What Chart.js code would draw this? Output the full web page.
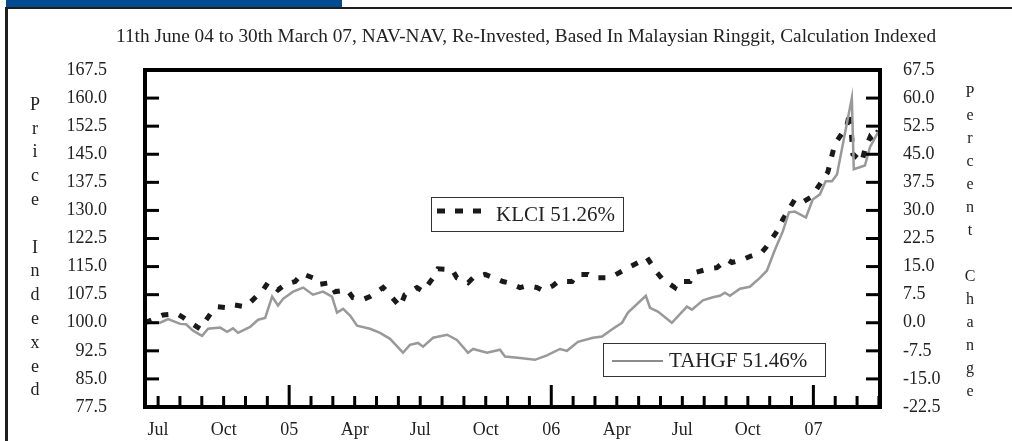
<!DOCTYPE html>
<html><head><meta charset="utf-8">
<script src="https://cdn.jsdelivr.net/npm/chart.js@4.4.0/dist/chart.umd.min.js"></script>
<style>html,body{margin:0;background:#fff}canvas{display:block}</style>
</head><body>
<canvas id="chart" width="1012" height="441"></canvas>
<script>
const title='11th June 04 to 30th March 07, NAV-NAV, Re-Invested, Based In Malaysian Ringgit, Calculation Indexed';
const leftTitle='Price Indexed', rightTitle='Percent Change';
const legendKlci='KLCI 51.26%', legendTahgf='TAHGF 51.46%';
// x = months after 1 Jul 2004
const monthLabels=['Jul','Oct','05','Apr','Jul','Oct','06','Apr','Jul','Oct','07'];
const tahgfX=[-0.6,0.09,0.46,1.01,1.28,1.60,2.01,2.29,2.84,3.16,3.43,3.66,4.21,4.58,4.90,5.22,5.49,5.72,6.18,6.64,7.09,7.55,7.96,8.19,8.47,8.79,9.11,9.70,10.16,10.62,11.21,11.53,11.90,12.13,12.59,13.23,13.68,14.19,14.42,15.06,15.65,15.88,16.57,17.25,17.80,18.40,18.72,19.22,19.91,20.32,20.82,21.24,21.51,22.33,22.52,22.88,23.52,24.21,24.44,24.94,25.40,25.72,25.95,26.18,26.64,27.09,27.55,27.87,28.24,28.60,28.88,29.15,29.66,29.97,30.30,30.56,30.85,31.08,31.76,31.85,32.36,32.59,32.97];
const tahgfY=[100.0,100.0,101.0,99.7,99.6,97.9,96.5,98.4,98.7,97.6,98.5,97.3,98.9,100.8,101.3,107.0,104.6,106.4,108.3,109.4,107.5,108.3,107.0,102.7,103.7,101.9,99.2,98.4,97.3,95.7,92.0,94.1,94.6,93.6,96.0,96.8,95.4,92.0,93.0,92.0,92.8,91.0,90.6,90.1,91.3,93.0,92.5,94.9,96.0,96.3,98.4,100.0,102.7,107.2,104.0,103.0,100.0,104.3,103.5,106.0,106.8,107.2,108.0,107.2,109.1,109.6,112.0,113.9,119.5,124.4,129.5,129.7,128.1,132.9,134.3,137.8,137.8,139.6,160.0,141.0,142.0,146.9,151.0];
const klciX=[-0.6,0.23,0.87,1.10,1.78,1.92,2.47,2.70,3.20,3.43,3.98,4.21,4.81,5.03,5.49,5.81,6.27,6.59,7.09,7.32,7.87,8.10,8.65,8.92,9.38,9.70,10.30,10.53,11.08,11.30,11.85,12.13,12.59,12.81,13.46,13.68,14.19,14.42,14.97,15.19,15.79,16.02,16.57,16.89,17.35,17.62,18.08,18.31,18.95,19.18,19.68,19.91,20.55,20.78,21.28,21.51,22.06,22.38,22.84,23.11,23.66,23.80,24.35,24.58,25.26,25.58,26.04,26.27,26.77,27.09,27.64,27.87,28.33,28.60,29.15,29.47,29.93,30.21,30.66,30.98,31.53,31.67,31.81,32.22,32.36,32.59,32.72,32.97];
const klciY=[100.0,102.1,102.4,101.6,98.9,98.4,103.0,104.3,104.0,104.8,104.3,105.4,108.8,110.7,108.8,110.2,111.0,113.1,112.0,110.2,110.7,108.3,108.8,106.7,106.2,107.0,109.4,108.0,104.3,107.5,109.4,108.4,112.0,114.4,114.2,112.0,110.7,112.0,112.9,112.4,111.0,110.7,109.4,109.9,109.4,108.6,109.9,111.0,111.0,112.9,112.9,112.0,112.0,112.3,113.9,114.7,116.3,117.4,113.4,111.5,109.4,111.0,111.0,113.4,114.5,114.7,116.9,116.1,116.9,117.7,118.8,120.4,124.4,127.6,132.9,132.1,133.7,136.2,140.2,147.7,152.5,156.3,145.0,142.9,146.3,149.5,148.5,151.3];

const serif="'Liberation Serif','Times New Roman',serif";
const tickFont={family:serif,size:18};

const deco={id:'deco',
  beforeDraw(c){
    const g=c.ctx;g.save();
    g.fillStyle='#fff';g.fillRect(0,0,c.width,c.height);
    g.fillStyle='#004b93';g.fillRect(6,0,336,7);
    g.fillStyle='#1e1e1e';g.fillRect(6,7,c.width-6,2);g.fillRect(5,7,3,c.height-7);
    g.fillStyle='#222';g.textAlign='left';g.textBaseline='middle';
    g.font='19.3px '+serif;g.fillText(title,116,37);
    g.textAlign='center';g.font='18px '+serif;
    [...leftTitle].forEach((ch,i)=>g.fillText(ch,35,105+i*23.8));
    g.font='16px '+serif;
    [...rightTitle].forEach((ch,i)=>g.fillText(ch,970,93+i*23));
    g.restore();
  },
  afterDatasetsDraw(c){
    const g=c.ctx,a=c.chartArea,xs=c.scales.x,yl=c.scales.y,yr=c.scales.y2;
    g.save();g.strokeStyle='#000';g.lineWidth=3;
    xs.ticks.forEach(t=>{
      if(t.value<=xs.min||t.value>=xs.max)return;
      const px=xs.getPixelForValue(t.value),tall=((t.value%12)+12)%12===6;
      g.beginPath();g.moveTo(px,a.bottom);g.lineTo(px,a.bottom-(tall?22:11));g.stroke();
    });
    yl.ticks.forEach(t=>{
      if(t.value<=yl.min||t.value>=yl.max)return;
      const py=yl.getPixelForValue(t.value);
      g.beginPath();g.moveTo(a.left,py);g.lineTo(a.left+14,py);g.stroke();
    });
    yr.ticks.forEach(t=>{
      if(t.value<=yr.min||t.value>=yr.max)return;
      const py=yr.getPixelForValue(t.value);
      g.beginPath();g.moveTo(a.right,py);g.lineTo(a.right-14,py);g.stroke();
    });
    g.lineWidth=4;g.strokeRect(a.left,a.top,a.width,a.height);
    // legends
    g.lineWidth=1;g.strokeStyle='#333';g.fillStyle='#fff';
    g.fillRect(431.5,197.5,192,34);g.strokeRect(431.5,197.5,192,34);
    g.fillRect(603.5,343.5,222,33);g.strokeRect(603.5,343.5,222,33);
    g.strokeStyle='#1a1a1a';g.lineWidth=5;g.setLineDash([8,10]);
    g.beginPath();g.moveTo(437,211);g.lineTo(490,211);g.stroke();
    g.setLineDash([]);g.strokeStyle='#666';g.lineWidth=1.5;
    g.beginPath();g.moveTo(612,361);g.lineTo(663,361);g.stroke();
    g.fillStyle='#222';g.font='21px '+serif;g.textAlign='left';g.textBaseline='middle';
    g.fillText(legendKlci,496,215);g.fillText(legendTahgf,669,361);
    g.restore();
  }};

const pts=(xs,ys)=>xs.map((x,i)=>({x,y:ys[i]}));
const fitY=w=>s=>{s.width=w;s.paddingTop=0;s.paddingBottom=0;};
new Chart(document.getElementById('chart'),{
  type:'line',
  data:{datasets:[
    {label:'TAHGF',data:pts(tahgfX,tahgfY),borderColor:'#999',borderWidth:2.5,pointRadius:0,tension:0,yAxisID:'y'},
    {label:'KLCI',data:pts(klciX,klciY),borderColor:'#1a1a1a',borderWidth:5,borderDash:[7,11],pointRadius:0,tension:0,yAxisID:'y'}
  ]},
  options:{
    responsive:false,animation:false,
    layout:{padding:{top:70,left:0,right:0,bottom:0}},
    plugins:{legend:{display:false},tooltip:{enabled:false}},
    scales:{
      x:{type:'linear',min:-0.6,max:33.05,
        grid:{display:false,drawTicks:false},border:{display:false},
        afterFit(s){s.height=34;},
        ticks:{stepSize:1,includeBounds:false,autoSkip:false,maxRotation:0,padding:12,color:'#222',font:tickFont,
          callback:v=>(v%3===0&&v>=0)?(monthLabels[v/3]||''):''}},
      y:{position:'left',min:77.5,max:167.5,
        grid:{display:false,drawTicks:false},border:{display:false},
        afterFit:fitY(145),
        ticks:{stepSize:7.5,padding:38,color:'#222',font:tickFont,callback:v=>v.toFixed(1)}},
      y2:{position:'right',min:-22.5,max:67.5,
        grid:{display:false,drawTicks:false},border:{display:false},
        afterFit:fitY(132),
        ticks:{stepSize:7.5,padding:23,color:'#222',font:tickFont,callback:v=>v.toFixed(1)}}
    }
  },
  plugins:[deco]
});
</script>
</body></html>
